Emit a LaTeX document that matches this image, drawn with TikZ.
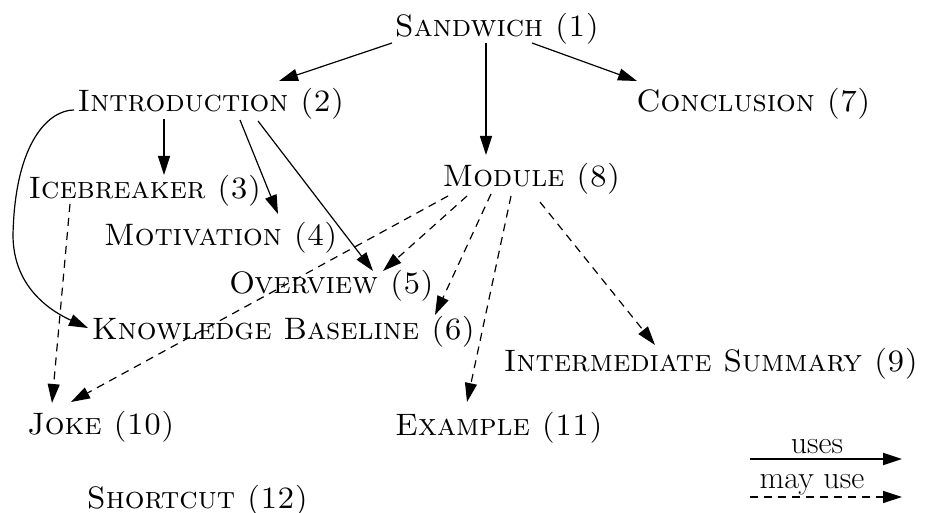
\documentclass[tikz,border=0pt]{standalone}
\usetikzlibrary{arrows.meta}
\begin{document}
\begin{tikzpicture}[x=1pt,y=-1pt,
  lbl/.style={font=\fontsize{31}{37}\selectfont\scshape, anchor=base, inner sep=0pt},
  leg/.style={font=\fontsize{32}{38}\selectfont, anchor=base, inner sep=0pt},
  uses/.style={draw, line width=1.2pt, -{Triangle[length=19pt,width=12pt]}},
  mayuse/.style={uses, dash pattern=on 8pt off 6pt}]
\useasboundingbox (0,0) rectangle (929,513);
% nodes
\node[lbl] (s1) at (497,37) {Sandwich (1)};
\node[lbl] (s2) at (211,112) {Introduction (2)};
\node[lbl] (s7) at (753.5,112) {Conclusion (7)};
\node[lbl] (s3) at (145,199) {Icebreaker (3)};
\node[lbl] (s8) at (531.5,187) {Module (8)};
\node[lbl] (s4) at (221,246) {Motivation (4)};
\node[lbl] (s5) at (331.5,293) {Overview (5)};
\node[lbl] (s6) at (283.5,339) {Knowledge Baseline (6)};
\node[lbl] (s9) at (711,371) {Intermediate Summary (9)};
\node[lbl] (s10) at (101,434) {Joke (10)};
\node[lbl] (s11) at (499,435) {Example (11)};
\node[lbl] (s12) at (197.5,508) {Shortcut (12)};
% solid edges
\draw[uses] ([xshift=-105pt,yshift=-6pt]s1.base) -- ([xshift=68pt,yshift=31pt]s2.base);
\draw[uses] ([xshift=-11pt,yshift=-6pt]s1.base) -- ([xshift=-45.5pt,yshift=32pt]s8.base);
\draw[uses] ([xshift=35pt,yshift=-6pt]s1.base) -- ([xshift=-116.5pt,yshift=31pt]s7.base);
\draw[uses] ([xshift=-47pt,yshift=-7pt]s2.base) -- ([xshift=19pt,yshift=24pt]s3.base);
\draw[uses] ([xshift=29pt,yshift=-8pt]s2.base) -- ([xshift=57pt,yshift=32pt]s4.base);
\draw[uses] ([xshift=47pt,yshift=-9pt]s2.base) -- ([xshift=41.5pt,yshift=22pt]s5.base);
\draw[uses] ([xshift=-137pt,yshift=2pt]s2.base)
  .. controls (50,110) and (15,140) .. (13,235)
  .. controls (13,290) and (55,313) .. ([xshift=-195.5pt,yshift=11pt]s6.base);
% dashed edges
\draw[mayuse] ([xshift=-75pt,yshift=-5pt]s3.base) -- ([xshift=-49pt,yshift=31pt]s10.base);
\draw[mayuse] ([xshift=-83.5pt,yshift=-9pt]s8.base) -- ([xshift=-30pt,yshift=32pt]s10.base);
\draw[mayuse] ([xshift=-64.5pt,yshift=-9pt]s8.base) -- ([xshift=51.5pt,yshift=22pt]s5.base);
\draw[mayuse] ([xshift=-40.5pt,yshift=-7pt]s8.base) -- ([xshift=151.5pt,yshift=24pt]s6.base);
\draw[mayuse] ([xshift=-20.5pt,yshift=-9pt]s8.base) -- ([xshift=-32pt,yshift=33pt]s11.base);
\draw[mayuse] ([xshift=8.5pt,yshift=-15pt]s8.base) -- ([xshift=-56pt,yshift=26pt]s9.base);
% legend
\node[leg] (luses) at (817,453) {uses};
\node[leg] (lmay) at (812,488) {may use};
\coordinate (la1) at (750,459);
\coordinate (la2) at (902,459);
\coordinate (lb1) at (750,497);
\coordinate (lb2) at (902,497);
\draw[uses, line width=1.8pt] (la1) -- (la2);
\draw[mayuse] (lb1) -- (lb2);
\end{tikzpicture}
\end{document}
